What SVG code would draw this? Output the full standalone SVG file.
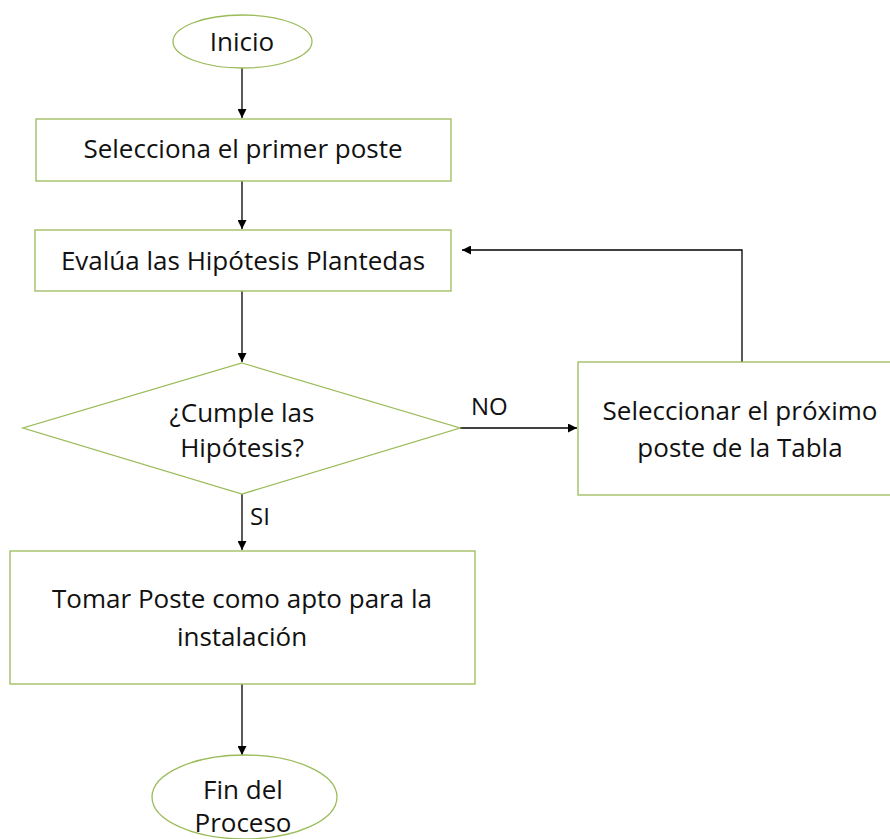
<svg xmlns="http://www.w3.org/2000/svg" width="890" height="839" viewBox="0 0 890 839">
  <style>
    .shape { fill: #ffffff; stroke: #9bbb59; stroke-width: 1.3; }
    .label { font-family: "Open Sans", "Noto Sans", "Liberation Sans", sans-serif; font-size: 26px; fill: #111111; text-anchor: middle; }
    .tag { font-family: "Open Sans", "Noto Sans", "Liberation Sans", sans-serif; font-size: 24px; fill: #111111; }
    .link { fill: none; stroke: #000000; stroke-width: 1.3; marker-end: url(#arrow); }
  </style>
  <defs>
    <marker id="arrow" viewBox="0 0 10 10" refX="10" refY="5" markerUnits="userSpaceOnUse" markerWidth="9" markerHeight="9" orient="auto">
      <path d="M0,0 L10,5 L0,10 z" fill="#000000"/>
    </marker>
  </defs>
  <rect width="890" height="839" fill="#ffffff"/>

  <!-- connectors -->
  <g id="connectors">
    <path class="link" d="M242,68 V118"/>
    <path class="link" d="M242,181 V229"/>
    <path class="link" d="M242,291 V362"/>
    <path class="link" d="M460,428 H577"/>
    <path class="link" d="M742,362 V250 H462"/>
    <path class="link" d="M242,494 V550"/>
    <path class="link" d="M242,684 V755"/>
    <text class="tag" x="471" y="415">NO</text>
    <text class="tag" x="250" y="525">SI</text>
  </g>

  <!-- start -->
  <g id="inicio">
    <ellipse class="shape" cx="242.5" cy="41.5" rx="69.5" ry="26.5"/>
    <text class="label" x="242" y="51">Inicio</text>
  </g>

  <!-- step: pick first pole -->
  <g id="selecciona">
    <rect class="shape" x="36" y="119" width="415" height="62"/>
    <text class="label" x="243" y="158">Selecciona el primer poste</text>
  </g>

  <!-- step: evaluate hypotheses -->
  <g id="evalua">
    <rect class="shape" x="35" y="230" width="416" height="61"/>
    <text class="label" x="243" y="270">Evalúa las Hipótesis Plantedas</text>
  </g>

  <!-- decision -->
  <g id="cumple">
    <polygon class="shape" points="242,363 460,428 242,494 23,428"/>
    <text class="label" x="242" y="422">¿Cumple las</text>
    <text class="label" x="242" y="457">Hipótesis?</text>
  </g>

  <!-- step: next pole -->
  <g id="proximo">
    <rect class="shape" x="578" y="362" width="318" height="133"/>
    <text class="label" x="740" y="420">Seleccionar el próximo</text>
    <text class="label" x="740" y="457">poste de la Tabla</text>
  </g>

  <!-- step: accept pole -->
  <g id="tomar">
    <rect class="shape" x="10" y="551" width="465" height="133"/>
    <text class="label" x="242" y="608">Tomar Poste como apto para la</text>
    <text class="label" x="242" y="646">instalación</text>
  </g>

  <!-- end -->
  <g id="fin">
    <ellipse class="shape" cx="244.5" cy="797" rx="92.5" ry="42"/>
    <text class="label" x="243" y="799">Fin del</text>
    <text class="label" x="243" y="832">Proceso</text>
  </g>
</svg>
